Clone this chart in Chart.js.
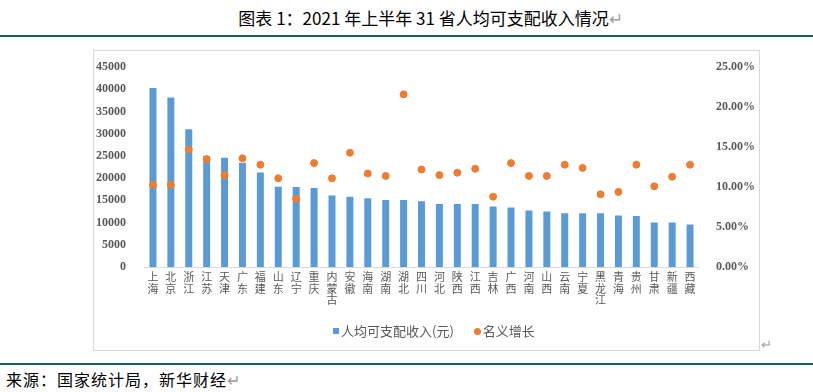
<!DOCTYPE html>
<html>
<head>
<meta charset="utf-8">
<script src="https://cdn.jsdelivr.net/npm/chart.js@4/dist/chart.umd.min.js"></script>
<style>
  body { margin: 0; width: 813px; height: 392px; background: #fff; position: relative; overflow: hidden; font-family: "Noto Sans CJK SC", sans-serif; }
  .title { position: absolute; left: 24px; width: 813px; top: 5px; text-align: center; font-size: 17px; color: #000; }
  .rule { position: absolute; left: 0; width: 813px; height: 2px; background: #1f5a63; }
  .box { position: absolute; left: 93px; top: 50px; width: 665px; height: 299px; border: 1px solid #d9d9d9; }
  #wrap { position: absolute; left: 93px; top: 50px; width: 666px; height: 300px; }
  .legend { position: absolute; top: 321px; left: 333px; font-size: 13px; color: #595959; white-space: nowrap; }
  .legend span.sq { display: inline-block; width: 6px; height: 6px; background: #5b9bd5; margin-right: 2px; vertical-align: 2px; }
  .legend span.dot { display: inline-block; width: 7px; height: 7px; border-radius: 50%; background: #ed7d31; margin: 0 2px 0 20px; vertical-align: 1px; }
  .ret { color: #a0a0a0; }
  .foot { position: absolute; left: 6px; top: 367px; font-size: 16px; letter-spacing: 1px; color: #000; }
</style>
</head>
<body>
<div class="title">图表 1：2021 年上半年 31 省人均可支配收入情况<span class="ret">↵</span></div>
<div class="rule" style="top:35px"></div>
<div class="box"></div>
<div id="wrap"><canvas id="c"></canvas></div>
<div class="legend"><span class="sq"></span>人均可支配收入(元)<span class="dot"></span>名义增长</div>
<div class="ret" style="position:absolute;left:761px;top:334px;font-size:13px">↵</div>
<div class="rule" style="top:363px"></div>
<div class="foot">来源：国家统计局，新华财经<span class="ret">↵</span></div>
<script>
const provinces = ["上海", "北京", "浙江", "江苏", "天津", "广东", "福建", "山东", "辽宁", "重庆",
  "内蒙古", "安徽", "海南", "湖南", "湖北", "四川", "河北", "陕西", "江西", "吉林",
  "广西", "河南", "山西", "云南", "宁夏", "黑龙江", "青海", "贵州", "甘肃", "新疆", "西藏"];
const income = [40300, 38200, 31000, 25000, 24600, 23500, 21300, 18100, 18000, 17800,
  16100, 15800, 15500, 15100, 15100, 14800, 14200, 14200, 14200, 13600,
  13400, 12700, 12500, 12100, 12100, 12100, 11600, 11500, 10000, 10000, 9600];
const growth = [10.3, 10.3, 14.7, 13.5, 11.5, 13.6, 12.8, 11.1, 8.5, 13.0,
  11.1, 14.3, 11.7, 11.4, 21.6, 12.2, 11.5, 11.8, 12.3, 8.8,
  13.0, 11.4, 11.4, 12.8, 12.4, 9.1, 9.4, 12.8, 10.1, 11.3, 12.8];
const leftTicks = [0, 5000, 10000, 15000, 20000, 25000, 30000, 35000, 40000, 45000];
const rightTicks = [0, 5, 10, 15, 20, 25];

const tickFont = { family: "Liberation Serif", size: 12, weight: "bold" };
const grey = "#595959";

new Chart(document.getElementById("c"), {
  data: {
    labels: provinces.map((p) => p.split("")),
    datasets: [
      {
        type: "scatter",
        label: "名义增长",
        data: growth,
        yAxisID: "y2",
        backgroundColor: "#ed7d31",
        borderColor: "#ed7d31",
        pointRadius: 3.5,
        showLine: false,
      },
      {
        type: "bar",
        label: "人均可支配收入(元)",
        data: income,
        yAxisID: "y",
        backgroundColor: "#5b9bd5",
        barPercentage: 0.78,
        categoryPercentage: 0.5,
      },
    ],
  },
  options: {
    responsive: true,
    maintainAspectRatio: false,
    animation: false,
    layout: { padding: { top: 16, left: 0, right: 0, bottom: 0 } },
    plugins: { legend: { display: false }, tooltip: { enabled: false } },
    scales: {
      x: {
        type: "category",
        grid: { display: false, drawTicks: false },
        border: { color: "#d9d9d9" },
        ticks: {
          color: grey,
          maxRotation: 0,
          autoSkip: false,
          padding: 4,
          font: { family: "Noto Sans CJK SC", size: 11, lineHeight: 1.06 },
        },
        afterFit: (s) => { s.height = 83; },
      },
      y: {
        position: "left",
        min: 0,
        max: 45000,
        grid: { display: false },
        border: { display: false },
        afterBuildTicks: (s) => { s.ticks = leftTicks.map((v) => ({ value: v })); },
        ticks: { color: grey, font: tickFont, padding: 10, callback: (v) => String(v) },
        afterFit: (s) => { s.width = 51; },
      },
      y2: {
        position: "right",
        min: 0,
        max: 25,
        grid: { display: false },
        border: { display: false },
        afterBuildTicks: (s) => { s.ticks = rightTicks.map((v) => ({ value: v })); },
        ticks: { color: grey, font: tickFont, padding: 9, callback: (v) => v.toFixed(2) + "%" },
        afterFit: (s) => { s.width = 60; },
      },
    },
  },
});
</script>
</body>
</html>
